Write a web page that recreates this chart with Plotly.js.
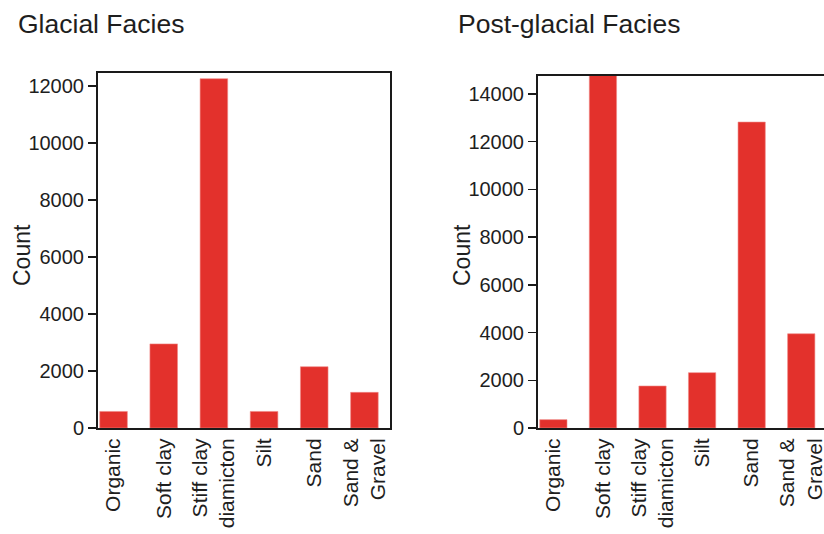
<!DOCTYPE html>
<html>
<head>
<meta charset="utf-8">
<script src="https://cdn.plot.ly/plotly-3.0.1.min.js"></script>
<style>
  html, body { margin: 0; padding: 0; overflow: hidden; background: #ffffff; }
  #chart { width: 836px; height: 534px; }
</style>
</head>
<body>
<div id="chart"></div>
<script>
// ---- data ----
const categories = ["Organic", "Soft clay", "Stiff clay<br>diamicton", "Silt", "Sand", "Sand &<br>Gravel"];
const glacialCounts = [580, 2950, 12250, 580, 2150, 1250];
const postGlacialCounts = [350, 14800, 1760, 2320, 12820, 3950];
const glacialTicks = [0, 2000, 4000, 6000, 8000, 10000, 12000];
const postGlacialTicks = [0, 2000, 4000, 6000, 8000, 10000, 12000, 14000];
const panelTitles = ["Glacial Facies", "Post-glacial Facies"];
const yTitle = "Count";

// ---- layout helpers ----
const W = 836, H = 534;
const barColor = "#e3312c";
const font = "Liberation Sans, Arial, Helvetica, sans-serif";
const textColor = "#1e1e1e";

function xAxis(domain, anchor, xmax) {
  return {
    domain: domain,
    anchor: anchor,
    type: "category",
    range: [-0.31, xmax],
    showline: true, mirror: true, linecolor: "#1a1a1a", linewidth: 2,
    ticks: "", tickangle: -90,
    tickfont: {family: font, size: 21, color: textColor},
    showgrid: false, zeroline: false, automargin: false, fixedrange: true
  };
}
function yAxis(domain, anchor, maxv, ticks) {
  return {
    domain: domain,
    anchor: anchor,
    range: [0, maxv],
    tickvals: ticks,
    ticktext: ticks.map(String),
    showline: true, mirror: true, linecolor: "#1a1a1a", linewidth: 2,
    ticks: "outside", ticklen: 8, tickwidth: 1.5, tickcolor: "#1a1a1a",
    tickfont: {family: font, size: 20, color: textColor},
    showgrid: false, zeroline: false, automargin: false, fixedrange: true
  };
}

const traces = [
  {type: "bar", x: categories, y: glacialCounts, xaxis: "x", yaxis: "y",
   width: 0.55, marker: {color: barColor, line: {color: "#f08a86", width: 0.6}},
   hoverinfo: "x+y", showlegend: false},
  {type: "bar", x: categories, y: postGlacialCounts, xaxis: "x2", yaxis: "y2",
   width: 0.55, marker: {color: barColor, line: {color: "#f08a86", width: 0.6}},
   hoverinfo: "x+y", showlegend: false}
];

const yBottom = (H - 428) / H;
const yMid = (H - 255) / H;
function note(text, x, y, size, angle) {
  return {text: text, xref: "paper", yref: "paper", x: x / W, y: y,
          xanchor: angle ? "center" : "left", yanchor: "middle", showarrow: false,
          textangle: angle || 0, font: {family: font, size: size, color: textColor}};
}
const layout = {
  width: W, height: H,
  margin: {l: 0, r: 0, t: 0, b: 0},
  paper_bgcolor: "#ffffff", plot_bgcolor: "#ffffff",
  font: {family: font, color: textColor},
  xaxis: xAxis([98 / W, 390 / W], "y", 5.51),
  yaxis: yAxis([yBottom, (H - 73) / H], "x", 12450, glacialTicks),
  xaxis2: xAxis([538 / W, 830 / W], "y2", 5.58),
  yaxis2: yAxis([yBottom, (H - 76) / H], "x2", 14750, postGlacialTicks),
  annotations: [
    note(panelTitles[0], 16, (H - 24) / H, 26.5),
    note(panelTitles[1], 456, (H - 24) / H, 26.5),
    note(yTitle, 22, yMid, 23, -90),
    note(yTitle, 462, yMid, 23, -90)
  ]
};

Plotly.newPlot("chart", traces, layout, {displayModeBar: false, staticPlot: true});
</script>
</body>
</html>
